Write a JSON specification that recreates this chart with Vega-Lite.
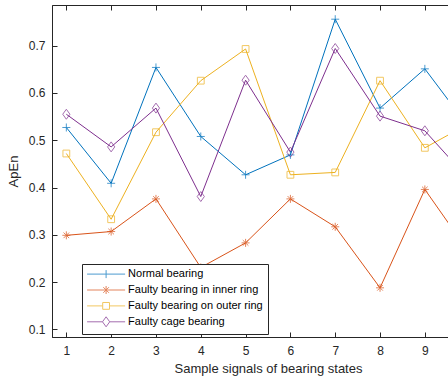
{
  "$schema": "https://vega.github.io/schema/vega-lite/v6.json",
  "autosize": {"type": "none"},
  "padding": {"left": 52, "top": 5, "right": 0, "bottom": 42},
  "width": 432,
  "height": 332,
  "background": "white",
  "config": {
    "view": {"stroke": "#262626", "strokeWidth": 1},
    "font": "Liberation Sans",
    "axis": {
      "labelFont": "Liberation Sans",
      "titleFont": "Liberation Sans",
      "labelColor": "#262626",
      "titleColor": "#262626",
      "domainColor": "#262626",
      "tickColor": "#262626",
      "labelFontSize": 12,
      "titleFontSize": 13,
      "titleFontWeight": "normal",
      "grid": false
    },
    "legend": {
      "labelFont": "Liberation Sans",
      "labelFontSize": 11,
      "labelColor": "#000000"
    }
  },
  "data": {
    "values": [
      {"x": 1, "series": "Normal bearing", "v": 0.527},
      {"x": 2, "series": "Normal bearing", "v": 0.409},
      {"x": 3, "series": "Normal bearing", "v": 0.654},
      {"x": 4, "series": "Normal bearing", "v": 0.508},
      {"x": 5, "series": "Normal bearing", "v": 0.427},
      {"x": 6, "series": "Normal bearing", "v": 0.469},
      {"x": 7, "series": "Normal bearing", "v": 0.756},
      {"x": 8, "series": "Normal bearing", "v": 0.568},
      {"x": 9, "series": "Normal bearing", "v": 0.651},
      {"x": 10, "series": "Normal bearing", "v": 0.525},
      {"x": 1, "series": "Faulty bearing in inner ring", "v": 0.299},
      {"x": 2, "series": "Faulty bearing in inner ring", "v": 0.307},
      {"x": 3, "series": "Faulty bearing in inner ring", "v": 0.376},
      {"x": 4, "series": "Faulty bearing in inner ring", "v": 0.231},
      {"x": 5, "series": "Faulty bearing in inner ring", "v": 0.283},
      {"x": 6, "series": "Faulty bearing in inner ring", "v": 0.376},
      {"x": 7, "series": "Faulty bearing in inner ring", "v": 0.317},
      {"x": 8, "series": "Faulty bearing in inner ring", "v": 0.188},
      {"x": 9, "series": "Faulty bearing in inner ring", "v": 0.396},
      {"x": 10, "series": "Faulty bearing in inner ring", "v": 0.261},
      {"x": 1, "series": "Faulty bearing on outer ring", "v": 0.472},
      {"x": 2, "series": "Faulty bearing on outer ring", "v": 0.333},
      {"x": 3, "series": "Faulty bearing on outer ring", "v": 0.517},
      {"x": 4, "series": "Faulty bearing on outer ring", "v": 0.626},
      {"x": 5, "series": "Faulty bearing on outer ring", "v": 0.693},
      {"x": 6, "series": "Faulty bearing on outer ring", "v": 0.427},
      {"x": 7, "series": "Faulty bearing on outer ring", "v": 0.432},
      {"x": 8, "series": "Faulty bearing on outer ring", "v": 0.626},
      {"x": 9, "series": "Faulty bearing on outer ring", "v": 0.484},
      {"x": 10, "series": "Faulty bearing on outer ring", "v": 0.536},
      {"x": 1, "series": "Faulty cage bearing", "v": 0.555},
      {"x": 2, "series": "Faulty cage bearing", "v": 0.486},
      {"x": 3, "series": "Faulty cage bearing", "v": 0.568},
      {"x": 4, "series": "Faulty cage bearing", "v": 0.381},
      {"x": 5, "series": "Faulty cage bearing", "v": 0.627},
      {"x": 6, "series": "Faulty cage bearing", "v": 0.475},
      {"x": 7, "series": "Faulty cage bearing", "v": 0.694},
      {"x": 8, "series": "Faulty cage bearing", "v": 0.551},
      {"x": 9, "series": "Faulty cage bearing", "v": 0.520},
      {"x": 10, "series": "Faulty cage bearing", "v": 0.415}
    ]
  },
  "encoding": {
    "x": {
      "field": "x",
      "type": "quantitative",
      "scale": {"domain": [0.68, 10.32], "nice": false, "zero": false},
      "axis": null
    },
    "y": {
      "field": "v",
      "type": "quantitative",
      "scale": {"domain": [0.084, 0.786], "nice": false, "zero": false},
      "axis": null
    }
  },
  "layer": [
    {
      "mark": {"type": "line", "strokeWidth": 1, "clip": true},
      "encoding": {
        "x": {
          "field": "x",
          "type": "quantitative",
          "axis": {
            "orient": "bottom",
            "values": [1, 2, 3, 4, 5, 6, 7, 8, 9],
            "tickSize": -5,
            "labelPadding": 13,
            "title": "Sample signals of bearing states",
            "titlePadding": 6
          }
        },
        "y": {
          "field": "v",
          "type": "quantitative",
          "axis": {
            "values": [0.1, 0.2, 0.3, 0.4, 0.5, 0.6, 0.7],
            "format": ".1f",
            "tickSize": -5,
            "labelPadding": 12,
            "title": "ApEn",
            "titlePadding": 8
          }
        },
        "color": {
          "field": "series",
          "type": "nominal",
          "scale": {
            "domain": ["Normal bearing", "Faulty bearing in inner ring", "Faulty bearing on outer ring", "Faulty cage bearing"],
            "range": ["#0072BD", "#D95319", "#EDB120", "#7E2F8E"]
          },
          "legend": {
            "title": null,
            "orient": "none",
            "legendX": 30,
            "legendY": 259,
            "padding": 4.6,
            "strokeColor": "#262626",
            "fillColor": "white",
            "symbolSize": 64,
            "symbolStrokeWidth": 1,
            "symbolFillColor": "transparent",
            "labelOffset": 30.5,
            "rowPadding": 2.9,
            "symbolType": {"expr": "datum.value == 'Normal bearing' ? 'M-1.25,0H8.25M3.5,-1V1' : datum.value == 'Faulty bearing in inner ring' ? 'M-1.25,0H8.25M3.5,-1V1M2.8,-0.7L4.2,0.7M2.8,0.7L4.2,-0.7' : datum.value == 'Faulty bearing on outer ring' ? 'M-1.25,0H2.65M4.35,0H8.25M2.65,-0.85H4.35V0.85H2.65Z' : 'M-1.25,0H2.6M4.4,0H8.25M3.5,-1.25L4.4,0L3.5,1.25L2.6,0Z'"}
          }
        }
      }
    },
    {
      "transform": [{"filter": "datum.series == 'Normal bearing'"}],
      "mark": {"type": "point", "shape": "M-1,0H1M0,-1V1", "filled": false, "size": 64, "strokeWidth": 1, "clip": true},
      "encoding": {"color": {"field": "series", "type": "nominal"}}
    },
    {
      "transform": [{"filter": "datum.series == 'Faulty bearing in inner ring'"}],
      "mark": {"type": "point", "shape": "M-1,0H1M0,-1V1M-0.7,-0.7L0.7,0.7M-0.7,0.7L0.7,-0.7", "filled": false, "size": 64, "strokeWidth": 1, "clip": true},
      "encoding": {"color": {"field": "series", "type": "nominal"}}
    },
    {
      "transform": [{"filter": "datum.series == 'Faulty bearing on outer ring'"}],
      "mark": {"type": "point", "shape": "M-0.85,-0.85H0.85V0.85H-0.85Z", "filled": false, "size": 64, "strokeWidth": 1, "clip": true},
      "encoding": {"color": {"field": "series", "type": "nominal"}}
    },
    {
      "transform": [{"filter": "datum.series == 'Faulty cage bearing'"}],
      "mark": {"type": "point", "shape": "M0,-1.25L0.9,0L0,1.25L-0.9,0Z", "filled": false, "size": 64, "strokeWidth": 1, "clip": true},
      "encoding": {"color": {"field": "series", "type": "nominal"}}
    },
    {
      "mark": {"type": "point", "opacity": 0},
      "encoding": {
        "x": {
          "field": "x",
          "type": "quantitative",
          "axis": {
            "orient": "top",
            "values": [1, 2, 3, 4, 5, 6, 7, 8, 9, 10],
            "tickSize": -5,
            "labels": false,
            "domain": false,
            "title": null
          }
        }
      }
    }
  ],
  "resolve": {"axis": {"x": "independent", "y": "independent"}}
}
